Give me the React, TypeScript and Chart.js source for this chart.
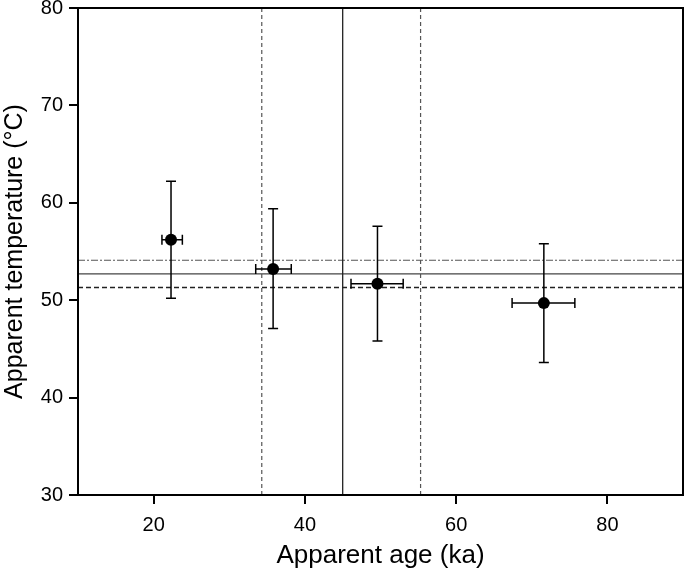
import React, { useEffect, useRef } from "react";
import { Chart, registerables } from "chart.js";

Chart.register(...registerables);

// Data
const ages = [22.3, 35.8, 49.6, 71.6];
const ageLow = [21.1, 33.5, 46.1, 67.4];
const ageHigh = [23.8, 38.2, 53.0, 75.7];
const temps = [56.2, 53.2, 51.7, 49.7];
const tempLow = [50.2, 47.1, 45.8, 43.6];
const tempHigh = [62.2, 59.4, 57.6, 55.8];

// Reference lines
const meanAge = 45.0;
const ageBand = [34.3, 55.3];
const meanTemp = 52.7;
const tempUpper = 54.1;
const tempLower = 51.3;

const xTicks = [20, 40, 60, 80];
const yTicks = [30, 40, 50, 60, 70, 80];
const xRange = [10, 90];
const yRange = [30, 80];

const FONT = "'Liberation Sans', Arial, sans-serif";

const errorBarPlugin = {
  id: "errorBars",
  afterDatasetsDraw(chart: any) {
    const { ctx, scales } = chart;
    const xs = scales.x;
    const ys = scales.y;
    ctx.save();
    ctx.strokeStyle = "#000";
    ctx.lineWidth = 1.5;
    const cap = 5;
    for (let i = 0; i < ages.length; i++) {
      const px = xs.getPixelForValue(ages[i]);
      const py = ys.getPixelForValue(temps[i]);
      const yt = ys.getPixelForValue(tempHigh[i]);
      const yb = ys.getPixelForValue(tempLow[i]);
      const xl = xs.getPixelForValue(ageLow[i]);
      const xr = xs.getPixelForValue(ageHigh[i]);
      ctx.beginPath();
      ctx.moveTo(px, yt);
      ctx.lineTo(px, yb);
      ctx.moveTo(px - cap, yt);
      ctx.lineTo(px + cap, yt);
      ctx.moveTo(px - cap, yb);
      ctx.lineTo(px + cap, yb);
      ctx.moveTo(xl, py);
      ctx.lineTo(xr, py);
      ctx.moveTo(xl, py - cap);
      ctx.lineTo(xl, py + cap);
      ctx.moveTo(xr, py - cap);
      ctx.lineTo(xr, py + cap);
      ctx.stroke();
    }
    ctx.fillStyle = "#000";
    for (let i = 0; i < ages.length; i++) {
      const px = xs.getPixelForValue(ages[i]);
      const py = ys.getPixelForValue(temps[i]);
      ctx.beginPath();
      ctx.arc(px, py, 6, 0, Math.PI * 2);
      ctx.fill();
    }
    const a = chart.chartArea;
    ctx.lineWidth = 2;
    ctx.strokeRect(a.left, a.top, a.right - a.left, a.bottom - a.top);
    ctx.restore();
  },
};

function vline(x: number, color: string, dash: number[], width: number) {
  return {
    type: "line" as const,
    data: [
      { x, y: yRange[0] },
      { x, y: yRange[1] },
    ],
    borderColor: color,
    borderWidth: width,
    borderDash: dash,
    pointRadius: 0,
    showLine: true,
    fill: false,
  };
}
function hline(y: number, color: string, dash: number[], width: number) {
  return {
    type: "line" as const,
    data: [
      { x: xRange[0], y },
      { x: xRange[1], y },
    ],
    borderColor: color,
    borderWidth: width,
    borderDash: dash,
    pointRadius: 0,
    showLine: true,
    fill: false,
  };
}

export default function App() {
  const ref = useRef<HTMLCanvasElement | null>(null);
  useEffect(() => {
    document.body.style.margin = "0";
    if (!ref.current) return;
    const chart = new Chart(ref.current, {
      type: "scatter",
      data: {
        datasets: [
          vline(ageBand[0], "#555", [4, 3], 1.2),
          vline(meanAge, "#222", [], 1.3),
          vline(ageBand[1], "#555", [4, 3], 1.2),
          hline(tempUpper, "#555", [7, 2, 2, 2], 1.2),
          hline(meanTemp, "#444", [], 1.2),
          hline(tempLower, "#222", [5, 3], 1.4),
          {
            type: "scatter" as const,
            data: ages.map((a, i) => ({ x: a, y: temps[i] })),
            pointRadius: 0,
            backgroundColor: "#000",
          },
        ] as any,
      },
      options: {
        animation: false,
        responsive: false,
        devicePixelRatio: 1,
        layout: { padding: { top: 8, right: 2, left: 0, bottom: 0 } },
        plugins: {
          legend: { display: false },
          tooltip: { enabled: false },
        },
        scales: {
          x: {
            type: "linear",
            min: xRange[0],
            max: xRange[1],
            afterBuildTicks: (s: any) => {
              s.ticks = xTicks.map((v) => ({ value: v }));
            },
            afterFit: (s: any) => {
              s.height = 76;
              s.paddingLeft = 0;
              s.paddingRight = 0;
            },
            grid: {
              drawOnChartArea: false,
              drawTicks: true,
              tickLength: 9,
              color: "#000",
              lineWidth: 2,
            },
            border: { display: true, color: "#000", width: 2 },
            ticks: {
              color: "#000",
              font: { family: FONT, size: 20 },
              padding: 9,
              maxRotation: 0,
            },
            title: {
              display: true,
              text: "Apparent age (ka)",
              color: "#000",
              font: { family: FONT, size: 26 },
              padding: { top: 0, bottom: 0 },
            },
          },
          y: {
            type: "linear",
            min: yRange[0],
            max: yRange[1],
            afterBuildTicks: (s: any) => {
              s.ticks = yTicks.map((v) => ({ value: v }));
            },
            afterFit: (s: any) => {
              s.width = 78;
              s.paddingTop = 0;
              s.paddingBottom = 0;
            },
            grid: {
              drawOnChartArea: false,
              drawTicks: true,
              tickLength: 9,
              color: "#000",
              lineWidth: 2,
            },
            border: { display: true, color: "#000", width: 2 },
            ticks: {
              color: "#000",
              font: { family: FONT, size: 20 },
              padding: 6,
            },
            title: {
              display: true,
              text: "Apparent temperature (°C)",
              color: "#000",
              font: { family: FONT, size: 25 },
              padding: { top: 0, bottom: 0 },
            },
          },
        },
      } as any,
      plugins: [errorBarPlugin],
    });
    return () => chart.destroy();
  }, []);
  return (
    <div style={{ width: 685, height: 571 }}>
      <canvas ref={ref} width={685} height={571} />
    </div>
  );
}
